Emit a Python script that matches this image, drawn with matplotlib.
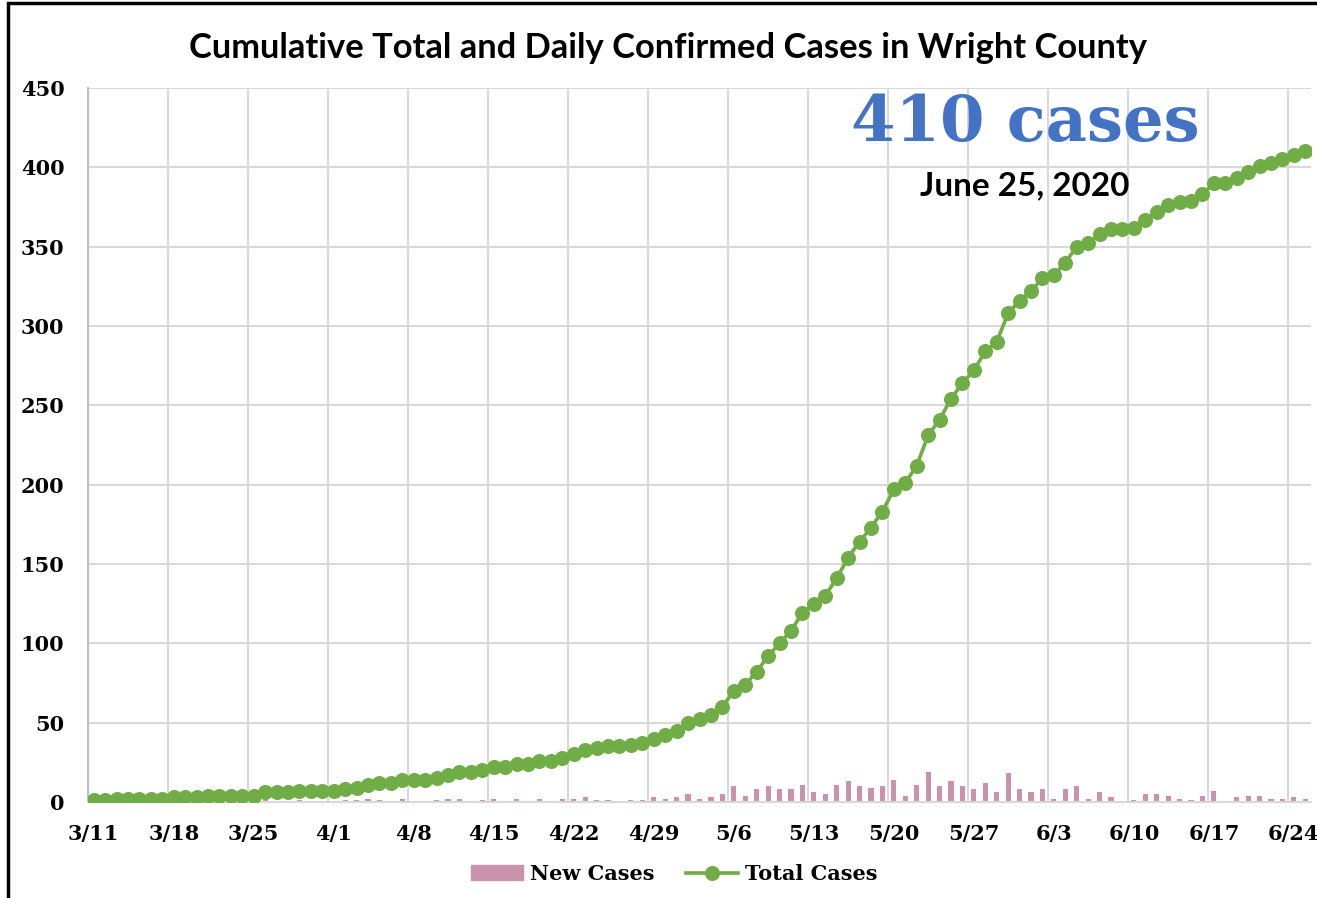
import matplotlib
matplotlib.use("Agg")
import matplotlib.pyplot as plt
from matplotlib.patches import Rectangle
from matplotlib.lines import Line2D
from matplotlib.patches import Patch
import numpy as np
import pandas as pd

# daily data, 3/11 .. 6/25 2020
dates = pd.date_range("2020-03-11", "2020-06-25", freq="D")

new_cases = [1, 0, 1, 0, 0, 0, 0, 1, 0, 0, 1, 0, 0, 0, 0, 2, 0, 0, 1, 0,
             0, 0, 1, 1, 2, 1, 0, 2, 0, 0, 1, 2, 2, 0, 1, 2, 0, 2, 0, 2,
             0, 2, 2, 3, 1, 1, 0, 1, 1, 3, 2, 3, 5, 2, 3, 5, 10, 4, 8, 10,
             8, 8, 11, 6, 5, 11, 13, 10, 9, 10, 14, 4, 11, 19, 10, 13, 10, 8, 12, 6,
             18, 8, 6, 8, 2, 8, 10, 2, 6, 3, 0, 1, 5, 5, 4, 2, 1, 4, 7, 0,
             3, 4, 4, 2, 2, 3, 2]

total_cases = [1, 1, 2, 2, 2, 2, 2, 3, 3, 3, 4, 4, 4, 4, 4, 6, 6, 6, 7, 7,
               7, 7, 8, 9, 11, 12, 12, 14, 14, 14, 15, 17, 19, 19, 20, 22, 22, 24, 24, 26,
               26, 28, 30, 33, 34, 35, 35, 36, 37, 40, 42, 45, 50, 52, 55, 60, 70, 74, 82, 92,
               100, 108, 119, 125, 130, 141, 154, 164, 173, 183, 197, 201, 212, 231, 241, 254, 264, 272, 284, 290,
               308, 316, 322, 330, 332, 340, 350, 352, 358, 361, 361, 362, 367, 372, 376, 378, 379, 383, 390, 390,
               393, 397, 401, 403, 405, 408, 410]

y_ticks = [0, 50, 100, 150, 200, 250, 300, 350, 400, 450]

bar_color = "#c993ae"
line_color = "#70ad47"
grid_color = "#d9d9d9"
serif = ["DejaVu Serif"]
sans = ["Lato", "DejaVu Sans"]

fig = plt.figure(figsize=(13.17, 8.98), dpi=100)
ax = fig.add_axes([88 / 1317, 1 - 802 / 898, (1311 - 88) / 1317, (802 - 88) / 898])

x = np.arange(len(dates))
ax.bar(x, new_cases, width=0.45, color=bar_color, zorder=2)
ax.plot(x, total_cases, color=line_color, lw=2.6, marker="o", markersize=9.8,
        zorder=3)

ax.set_xlim(-0.5, len(dates) - 0.5)
ax.set_ylim(0, 450)

# weekly gridlines sit on the left edge of each date's band
week_idx = x[::7]
for i in week_idx:
    ax.axvline(i - 0.5, color=grid_color, lw=1.5, zorder=0)
for v in y_ticks[1:]:
    ax.axhline(v, color=grid_color, lw=1.5, zorder=0)

ax.set_xticks(week_idx)
ax.set_xticklabels([f"{d.month}/{d.day}" for d in dates[::7]])
ax.set_yticks(y_ticks)
ax.tick_params(axis="both", length=0, labelsize=15)
ax.tick_params(axis="x", pad=16)
ax.tick_params(axis="y", pad=17)
for lab in ax.get_xticklabels() + ax.get_yticklabels():
    lab.set_fontfamily(serif)
    lab.set_fontweight("bold")

for s in ["top", "right"]:
    ax.spines[s].set_visible(False)
ax.spines["left"].set_color("#bfbfbf")
ax.spines["left"].set_linewidth(1.5)
ax.spines["bottom"].set_color("#d9d9d9")
ax.spines["bottom"].set_linewidth(1.5)

fig.text(668 / 1317, 1 - 48 / 898, "Cumulative Total and Daily Confirmed Cases in Wright County",
         ha="center", va="center", fontsize=24.8, fontweight="bold", family=sans)
fig.text(1025 / 1317, 1 - 123 / 898, "410 cases", ha="center", va="center",
         fontsize=46, fontweight="bold", color="#4472c4", family=serif)
fig.text(1025 / 1317, 1 - 186 / 898, "June 25, 2020", ha="center", va="center",
         fontsize=24, fontweight="bold", family=sans)

handles = [Patch(color=bar_color, label="New Cases"),
           Line2D([], [], color=line_color, lw=2.6, marker="o", markersize=9.8,
                  label="Total Cases")]
leg = fig.legend(handles=handles, loc="center", bbox_to_anchor=(674 / 1317, 1 - 874 / 898),
                 ncol=2, frameon=False, handlelength=2.5, handleheight=0.7,
                 columnspacing=1.5, handletextpad=0.35,
                 prop={"family": serif, "weight": "bold", "size": 15})

# outer chart border (right and bottom edges fall outside the picture)
fig.patches.append(Rectangle((8 / 1317, -0.05), 1.2, 1.05 - 3 / 898,
                             transform=fig.transFigure, fill=False,
                             edgecolor="black", lw=2.5))

fig.savefig("out.png", dpi=100)
